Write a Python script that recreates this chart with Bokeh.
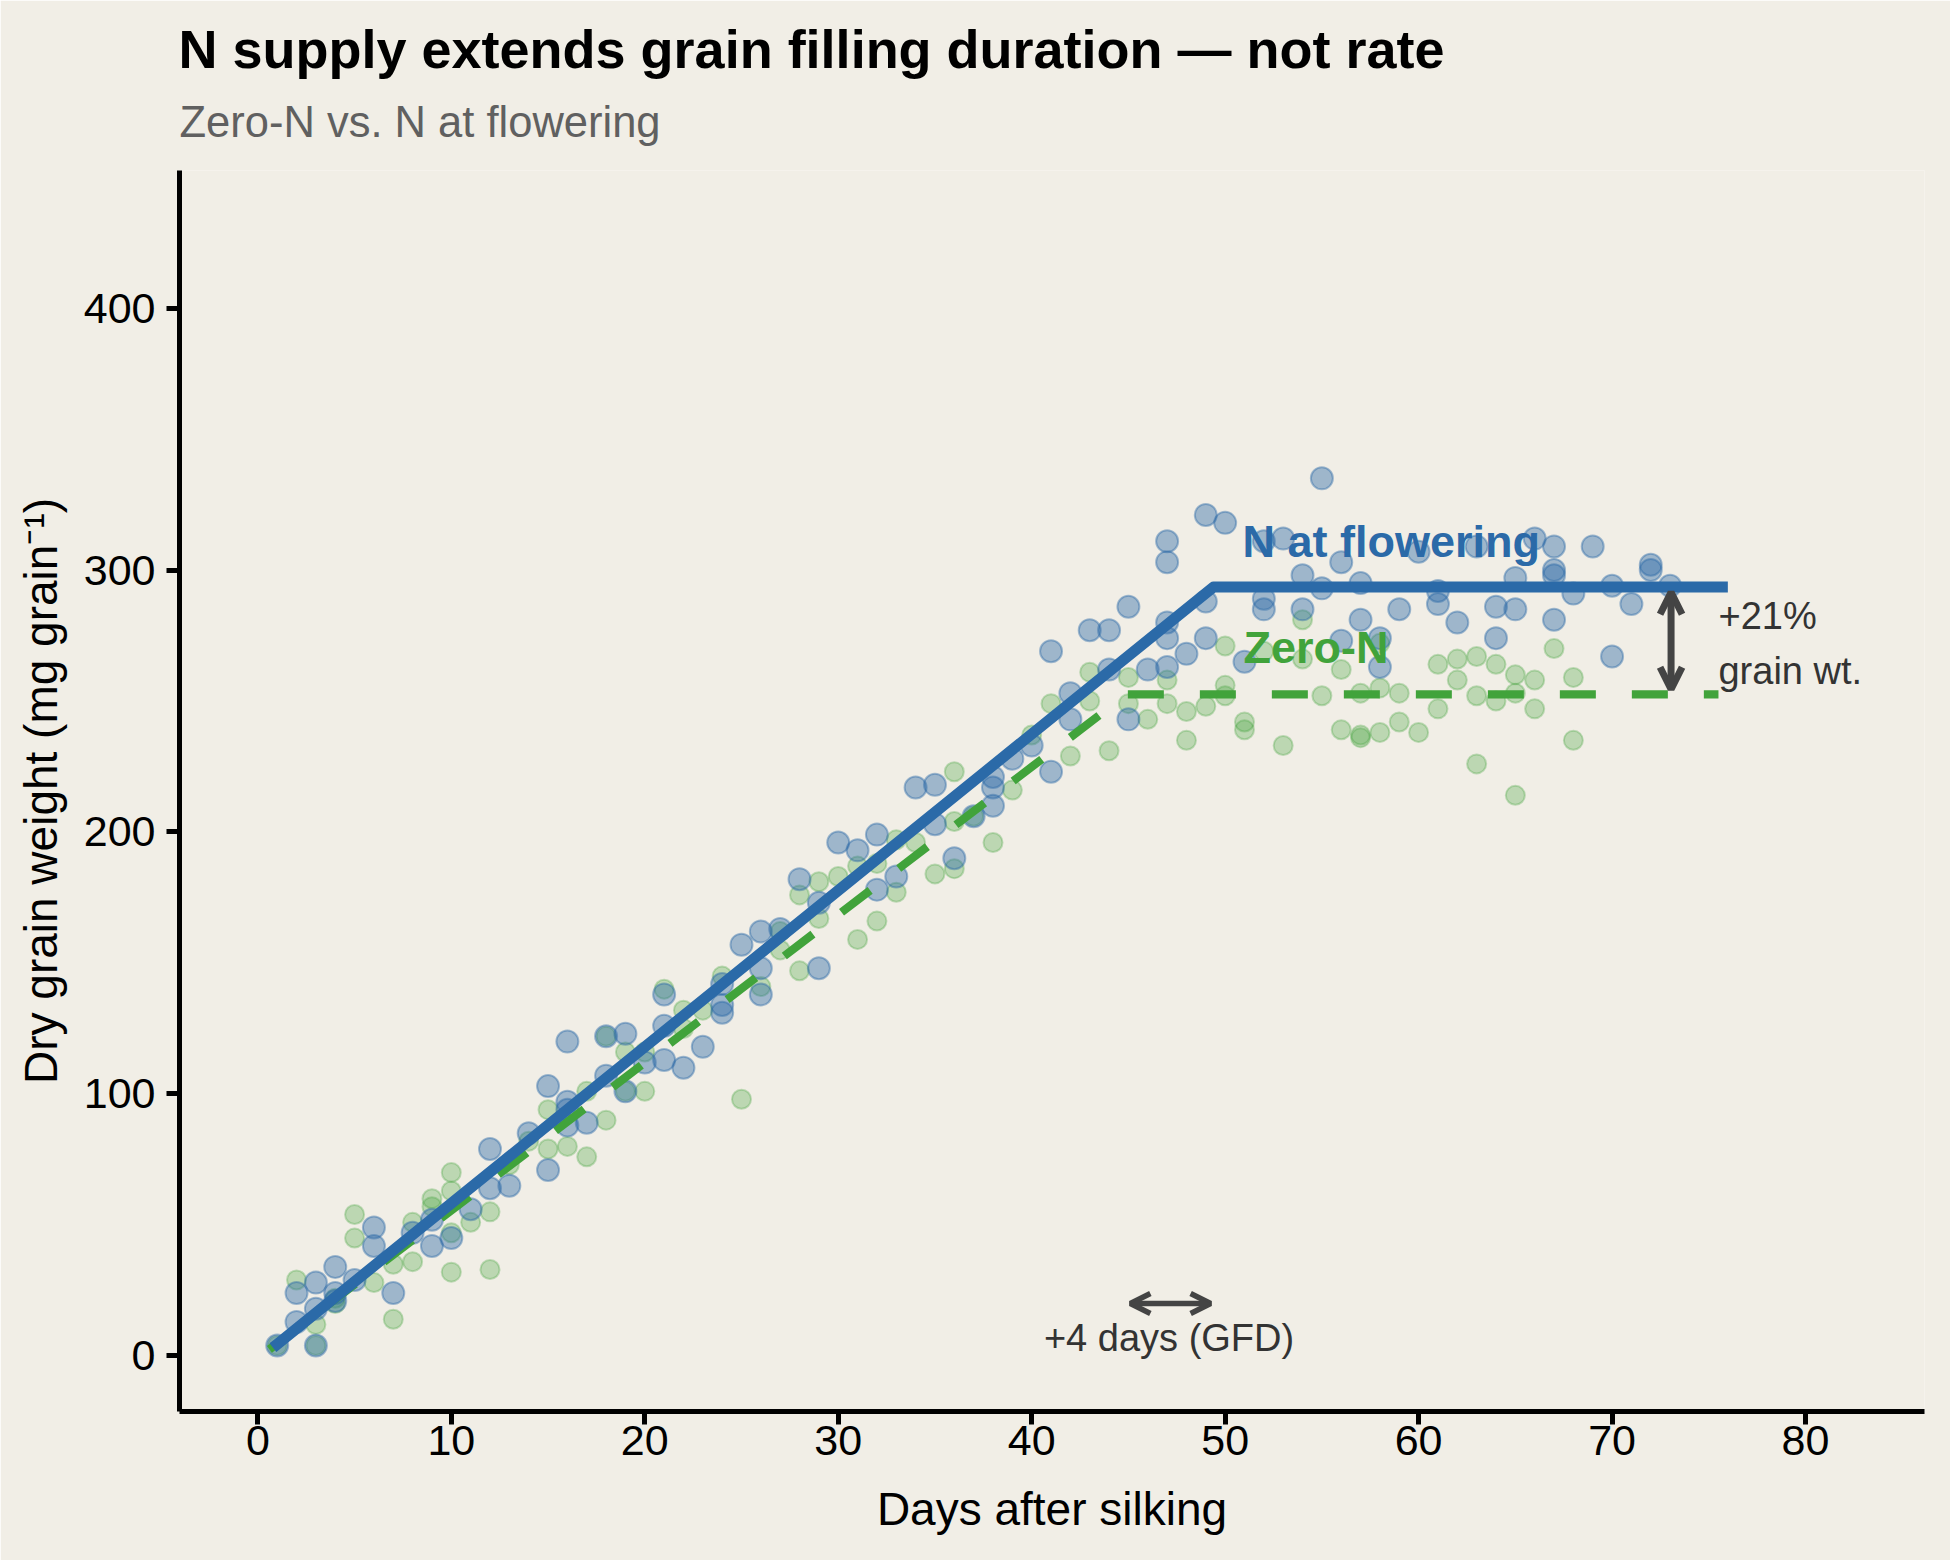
from bokeh.plotting import figure
from bokeh.models import Range1d, Label, Arrow, OpenHead, ColumnDataSource, FixedTicker, Title
from bokeh.embed import file_html
from bokeh.resources import INLINE

BG = "#F1EEE6"
BLUE = "#2B6AA8"
GREEN = "#41A33B"
DARK = "#444444"
FONT = "Liberation Sans"

# ---- observed grain weights, N at flowering (blue) ----
blue_day = ([1, 2, 2, 3, 3, 3, 4, 4, 4, 5, 6, 6, 7, 8, 9, 9, 10]
            + [11, 12, 12, 13, 14, 15, 15, 16, 16, 16, 16, 17, 18, 18, 19, 19, 20]
            + [21, 21, 21, 22, 23, 24, 24, 24, 25, 26, 26, 26, 27, 28, 29, 29, 30]
            + [31, 32, 32, 33, 34, 35, 35, 36, 37, 38, 38, 38, 39, 40]
            + [41, 41, 42, 42, 43, 44, 44, 45, 45, 46, 47, 47, 47, 47, 47, 48, 49, 49, 49, 50]
            + [51, 52, 52, 52, 53, 54, 54, 55, 55, 56, 56, 57, 57, 58, 58, 59, 60]
            + [61, 61, 62, 63, 64, 64, 65, 65, 66, 67, 67, 67, 67, 68, 69, 70, 70, 71, 72, 72, 73])
blue_wt = ([4, 24, 13, 28, 18, 4, 34, 24, 21, 29, 49, 42, 24, 47, 52, 42, 45]
           + [56, 79, 64, 65, 85, 103, 71, 120, 97, 94, 88, 89, 122, 107, 123, 101, 112]
           + [138, 126, 113, 110, 118, 142, 134, 131, 157, 162, 148, 138, 163, 182, 173, 148, 196]
           + [193, 199, 178, 183, 217, 218, 203, 190, 206, 221, 217, 210, 228, 233]
           + [269, 223, 253, 243, 277, 277, 262, 286, 243, 262, 311, 303, 280, 274, 263, 268, 321, 288, 274, 318]
           + [265, 311, 289, 285, 312, 298, 285, 335, 293, 303, 273, 295, 281, 274, 263, 285, 307]
           + [292, 287, 280, 309, 286, 274, 297, 285, 312, 309, 300, 298, 281, 291, 309, 294, 267, 287, 302, 300, 294])

# ---- observed grain weights, Zero-N (green) ----
green_day = ([1, 2, 3, 3, 4, 4, 5, 5, 6, 7, 7, 8, 8, 9, 9, 10, 10, 10, 10]
             + [11, 12, 12, 13, 14, 15, 15, 16, 17, 17, 18, 18, 19, 19, 20, 20]
             + [21, 22, 22, 23, 24, 25, 26, 27, 27, 28, 28, 29, 29, 30]
             + [31, 31, 32, 32, 33, 33, 34, 35, 36, 36, 36, 37, 38, 39, 40]
             + [41, 42, 43, 43, 44, 45, 45, 46, 47, 47, 48, 48, 49, 50, 50, 50]
             + [51, 51, 52, 53, 54, 54, 55, 56, 56, 57, 57, 57, 58, 58, 58, 59, 59, 60]
             + [61, 61, 62, 62, 63, 63, 63, 64, 64, 65, 65, 65, 66, 66, 67, 68, 68])
green_wt = ([4, 29, 12, 4, 20, 22, 54, 45, 28, 14, 35, 51, 36, 60, 57, 70, 63, 47, 32]
            + [51, 55, 33, 73, 82, 94, 79, 80, 101, 76, 122, 90, 116, 101, 116, 101]
            + [140, 132, 125, 132, 145, 98, 141, 162, 155, 176, 147, 181, 167, 183]
            + [187, 159, 188, 166, 197, 177, 196, 184, 223, 204, 186, 206, 196, 216, 237]
            + [249, 229, 261, 250, 231, 259, 249, 243, 258, 249, 246, 235, 248, 271, 256, 252]
            + [242, 239, 269, 233, 281, 266, 252, 262, 239, 253, 236, 237, 272, 255, 238, 253, 242, 238]
            + [264, 247, 266, 258, 267, 252, 226, 264, 250, 260, 253, 214, 258, 247, 270, 259, 235])

# ---- fitted linear-plateau curves ----
fit_n_x = [1.0, 49.4, 75.7]
fit_n_y = [4.5, 293.5, 293.5]
fit_z_x = [0.6, 44.9, 75.5]
fit_z_y = [2.5, 252.5, 252.5]

x_ticks = [0, 10, 20, 30, 40, 50, 60, 70, 80]
y_ticks = [0, 100, 200, 300, 400]

TITLE = "N supply extends grain filling duration \u2014 not rate"
SUBTITLE = "Zero-N vs. N at flowering"

p = figure(width=1950, height=1560,
           x_range=Range1d(-4.05, 86.15), y_range=Range1d(-21.2, 452.5),
           output_backend="svg", toolbar_location=None,
           background_fill_color=BG, border_fill_color=BG,
           min_border_left=179, min_border_right=26,
           min_border_top=170, min_border_bottom=149)
p.outline_line_color = None
p.grid.visible = False

# titles stacked above the frame (nearest first): spacer, subtitle, title
p.add_layout(Title(text=" ", text_font=FONT, text_font_size="10px", standoff=9.0), "above")
p.add_layout(Title(text=SUBTITLE, align="left", offset=0, text_font=FONT,
                   text_font_size="43.5px", text_font_style="normal",
                   text_color="#606060", standoff=5.3), "above")
p.add_layout(Title(text=TITLE, align="left", offset=-1, text_font=FONT,
                   text_font_size="54px", text_font_style="bold",
                   text_color="black", standoff=29.6), "above")

for ax in (p.xaxis[0], p.yaxis[0]):
    ax.axis_line_width = 5
    ax.axis_line_color = "black"
    ax.major_tick_line_width = 5
    ax.major_tick_line_color = "black"
    ax.major_tick_out = 13
    ax.major_tick_in = 0
    ax.minor_tick_out = 0
    ax.minor_tick_in = 0
    ax.major_label_text_font = FONT
    ax.major_label_text_font_size = "43px"
    ax.major_label_text_color = "black"
    ax.axis_label_text_font = FONT
    ax.axis_label_text_font_size = "46px"
    ax.axis_label_text_font_style = "normal"
    ax.axis_label_text_color = "black"

p.xaxis.ticker = FixedTicker(ticks=x_ticks)
p.yaxis.ticker = FixedTicker(ticks=y_ticks)
p.xaxis.axis_label = "Days after silking"
p.yaxis.axis_label = "Dry grain weight (mg grain\u207b\u00b9)"
p.xaxis.major_label_standoff = 1
p.yaxis.major_label_standoff = 11
p.xaxis.axis_label_standoff = 25
p.yaxis.axis_label_standoff = 14

src_g = ColumnDataSource(dict(x=green_day, y=green_wt))
src_b = ColumnDataSource(dict(x=blue_day, y=blue_wt))
p.scatter("x", "y", source=src_g, size=19, fill_color=GREEN, fill_alpha=0.3,
          line_color=GREEN, line_alpha=0.3, line_width=2)
p.scatter("x", "y", source=src_b, size=22, fill_color=BLUE, fill_alpha=0.42,
          line_color=BLUE, line_alpha=0.42, line_width=2)

p.line(fit_z_x, fit_z_y, line_color=GREEN, line_width=8.3, line_dash="36 36")
p.line(fit_n_x, fit_n_y, line_color=BLUE, line_width=11, line_cap="square", line_join="round")

p.add_layout(Arrow(start=OpenHead(size=22, line_width=7, line_color=DARK),
                   end=OpenHead(size=22, line_width=7, line_color=DARK),
                   x_start=73.05, y_start=254.5, x_end=73.05, y_end=291.5,
                   line_width=7, line_color=DARK))
p.add_layout(Arrow(start=OpenHead(size=20, line_width=5.5, line_color=DARK),
                   end=OpenHead(size=20, line_width=5.5, line_color=DARK),
                   x_start=45.1, y_start=20, x_end=49.25, y_end=20,
                   line_width=5.5, line_color=DARK))

def lab(x, y, text, size, color, style="normal", align="left"):
    p.add_layout(Label(x=x, y=y, text=text,
                       text_font=FONT, text_font_size=size, text_color=color,
                       text_font_style=style, text_align=align,
                       text_baseline="alphabetic"))

lab(50.9, 310.8, "N at flowering", "45px", BLUE, "bold")
lab(50.95, 270.3, "Zero-N", "45px", GREEN, "bold")
lab(75.5, 282.4, "+21%", "38px", "#333333")
lab(75.5, 261.5, "grain wt.", "38px", "#333333")
lab(47.1, 7.0, "+4 days (GFD)", "38px", "#333333", align="center")

open("out.html", "w").write(file_html(p, INLINE))
